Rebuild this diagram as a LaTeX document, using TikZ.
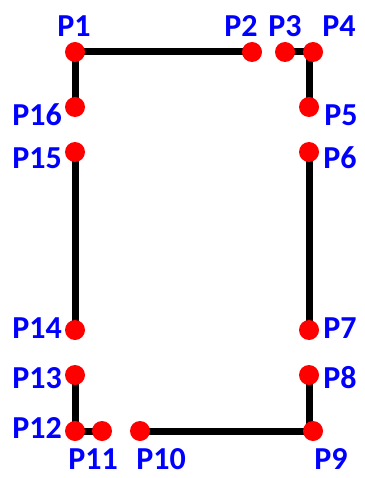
\documentclass[tikz,border=0pt]{standalone}
\usepackage{fontspec}
\setmainfont{Carlito}
\usetikzlibrary{positioning,backgrounds}
\usepackage{xcolor}
\definecolor{ptred}{RGB}{255,0,0}
\definecolor{lblblue}{RGB}{0,0,255}

\begin{document}
\begin{tikzpicture}[x=1pt,y=-1pt,
  ptdot/.style={circle,fill=ptred,inner sep=0pt,minimum size=20pt},
  lbl/.style={text=lblblue,font=\fontsize{32}{38}\selectfont\bfseries,inner sep=0pt},
  edge/.style={line width=7pt}]
  \useasboundingbox (0,0) rectangle (364,478);

  % 点
  \node[ptdot] (P1) at (75,52) {};
  \node[ptdot] (P2) at (252,52) {};
  \node[ptdot] (P3) at (285,52) {};
  \node[ptdot] (P4) at (313,52) {};
  \node[ptdot] (P5) at (309,107) {};
  \node[ptdot] (P6) at (309,152) {};
  \node[ptdot] (P7) at (309,330) {};
  \node[ptdot] (P8) at (309,375) {};
  \node[ptdot] (P9) at (313,431) {};
  \node[ptdot] (P10) at (140,431) {};
  \node[ptdot] (P11) at (102,431) {};
  \node[ptdot] (P12) at (75,431) {};
  \node[ptdot] (P13) at (75,375) {};
  \node[ptdot] (P14) at (75,330) {};
  \node[ptdot] (P15) at (75,152) {};
  \node[ptdot] (P16) at (75,107) {};

  % ラベル
  \node[lbl] (L1) at (74,26) {P1};
  \node[lbl] (L2) at (241,26) {P2};
  \node[lbl] (L3) at (285,26) {P3};
  \node[lbl] (L4) at (339,26) {P4};
  \node[lbl] (L5) at (341,115) {P5};
  \node[lbl] (L6) at (340,158) {P6};
  \node[lbl] (L7) at (340,328) {P7};
  \node[lbl] (L8) at (340,378) {P8};
  \node[lbl] (L9) at (331,459) {P9};
  \node[lbl] (L10) at (161,459) {P10};
  \node[lbl] (L11) at (93,459) {P11};
  \node[lbl] (L12) at (37,428) {P12};
  \node[lbl] (L13) at (37,378) {P13};
  \node[lbl] (L14) at (37,328) {P14};
  \node[lbl] (L15) at (37,158) {P15};
  \node[lbl] (L16) at (37,115) {P16};

  % 線分
  \begin{scope}[on background layer]
    \draw[edge] (P16.center) -- (P1.center) -- (P2.center);
    \draw[edge] (P3.center) -| (P5.center);
    \draw[edge] (P6.center) -- (P7.center);
    \draw[edge] (P8.center) |- (P10.center);
    \draw[edge] (P11.center) -- (P12.center) -- (P13.center);
    \draw[edge] (P14.center) -- (P15.center);
  \end{scope}
\end{tikzpicture}
\end{document}
